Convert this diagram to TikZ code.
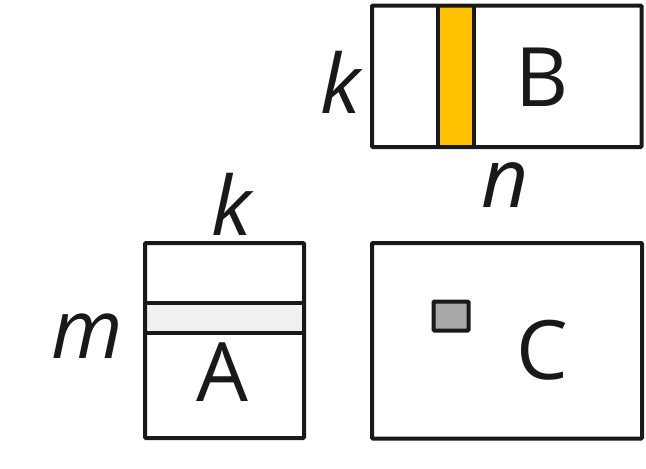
\documentclass[tikz,border=0pt]{standalone}
\usepackage{fontspec}
\setmainfont{Open Sans}
\usepackage{xcolor}
\usetikzlibrary{positioning}
\definecolor{stripyellow}{HTML}{FFC000}
\definecolor{stripgrey}{HTML}{F0F0F0}
\definecolor{cellgrey}{HTML}{A8A8A8}

\begin{document}
\begin{tikzpicture}[x=1pt,y=-1pt]
\tikzstyle{every node}+=[inner sep=0pt]
\tikzstyle{mat}=[draw=black!90,line width=4pt,rounded corners=1pt]
\tikzstyle{big}=[font=\fontsize{82}{90}\selectfont,anchor=base,text=black!90]
\tikzstyle{dim}=[big,font=\fontsize{82}{90}\selectfont\itshape]
\useasboundingbox (0,0) rectangle (646,469);
% B with its column
\fill [stripyellow] (438,5.5) rectangle (474,147);
\draw [mat] (372,5.5) rectangle (641.5,147);
\draw [mat] (438,5.5) -- (438,147);
\draw [mat] (474,5.5) -- (474,147);
\node [big] (lblB) at (542,106) {B};
\node [dim] (kB) at (341,113) {k};
\node [dim] (nB) at (505,207) {n};
% A with its row
\fill [stripgrey] (145,303) rectangle (304,332.5);
\draw [mat] (145,243) rectangle (304,438);
\draw [mat] (145,303) -- (304,303);
\draw [mat] (145,332.5) -- (304,332.5);
\node [big] (lblA) at (222,401) {A};
\node [dim] (kA) at (232,235) {k};
\node [dim] (mA) at (87,358) {m};
% C with one cell
\draw [mat] (372,243) rectangle (642,438.5);
\draw [mat,fill=cellgrey] (433.5,301.5) rectangle (468.5,330.5);
\node [big] (lblC) at (542,379) {C};
\end{tikzpicture}
\end{document}
